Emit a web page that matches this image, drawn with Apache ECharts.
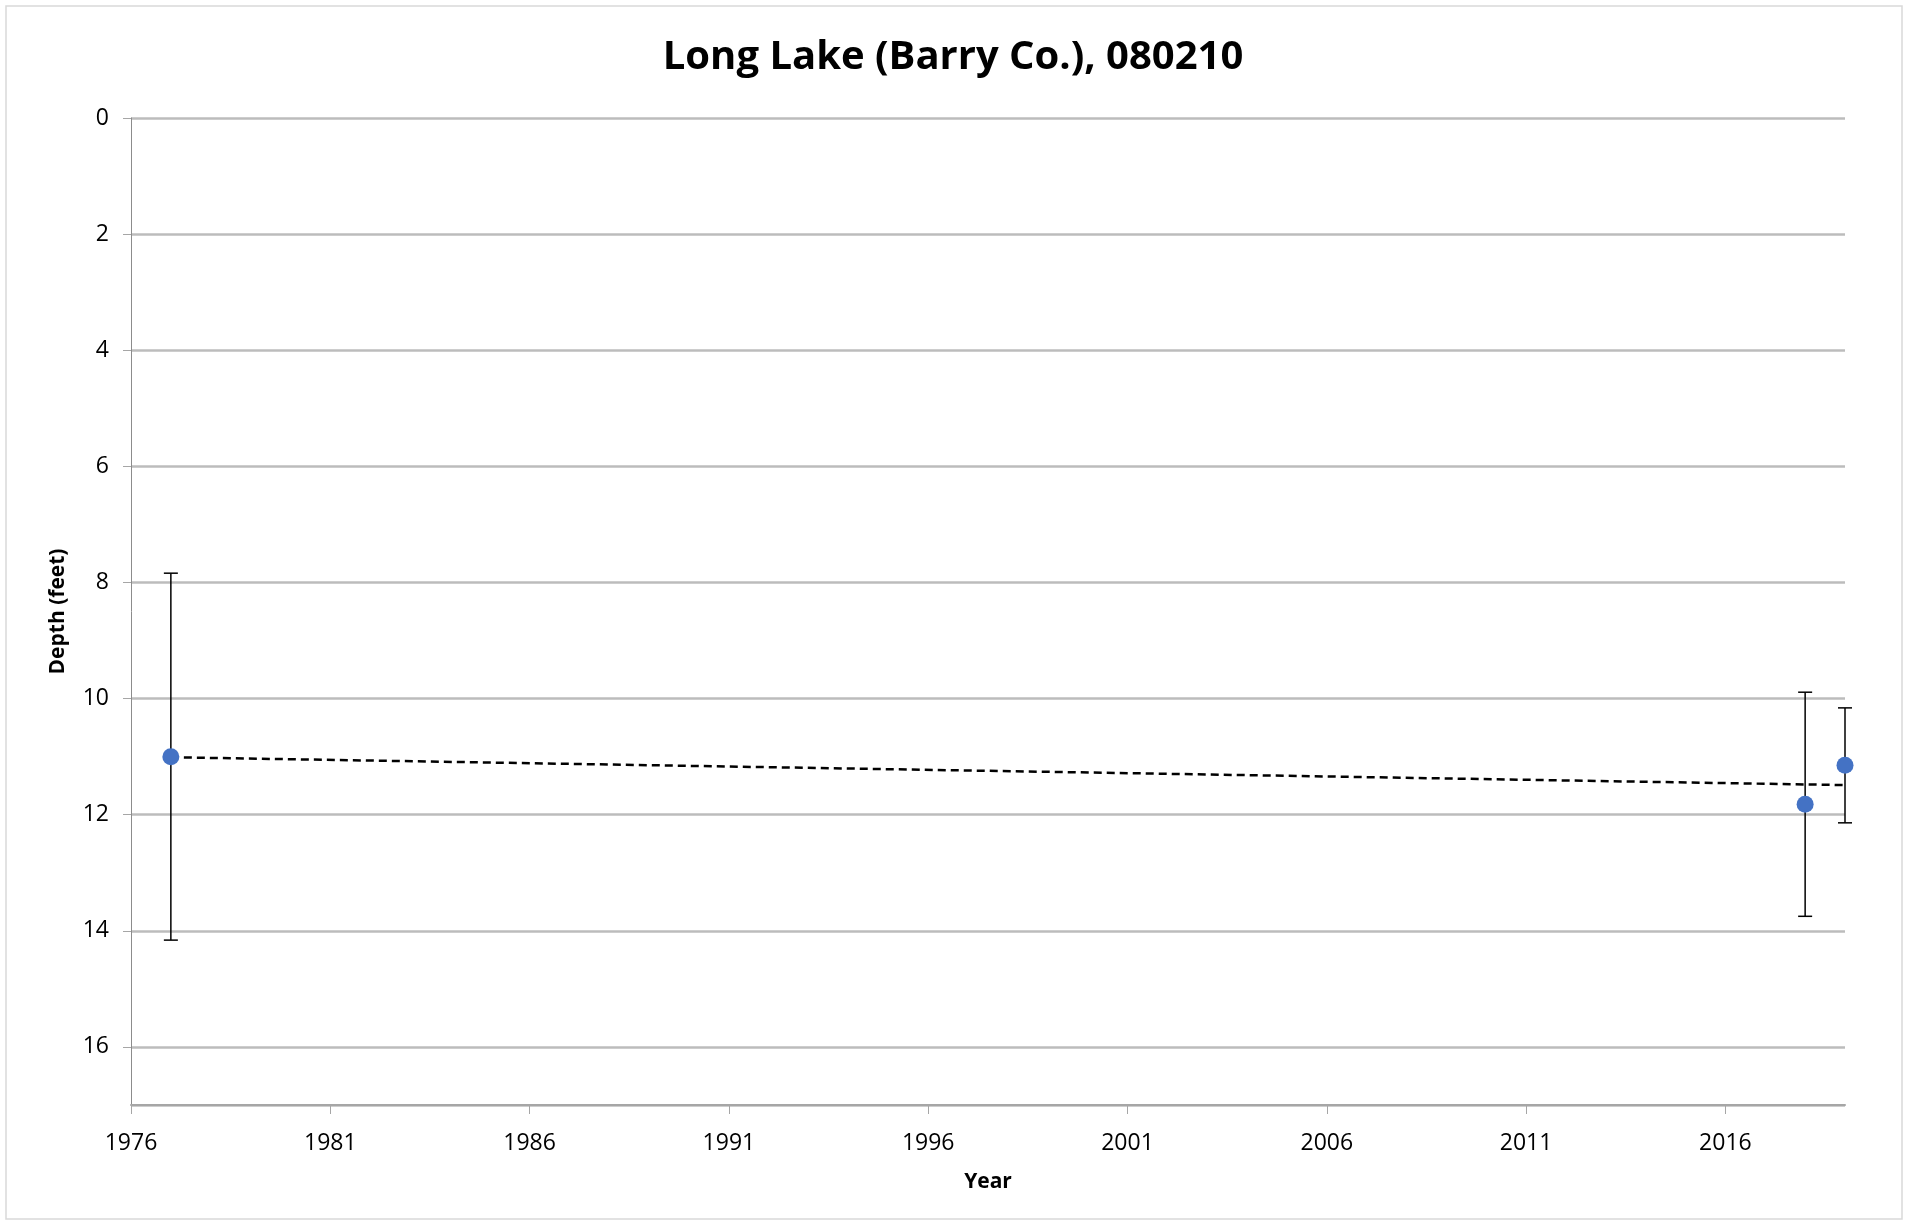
<!DOCTYPE html>
<html>
<head>
<meta charset="utf-8">
<script src="https://cdn.jsdelivr.net/npm/echarts@6/dist/echarts.min.js"></script>
<style>
html,body{margin:0;padding:0;background:#fff;}
#chart{width:1906px;height:1225px;}
</style>
</head>
<body>
<div id="chart"></div>
<script>
// Data
var years = [1977, 2018, 2019];
var depths = [11.0, 11.82, 11.15];
var errors = [3.16, 1.93, 0.99];
var trendYears = [1977, 2019];
var trendDepths = [11.01, 11.49];
var yTicks = [0, 2, 4, 6, 8, 10, 12, 14, 16];

var chart = echarts.init(document.getElementById('chart'));
var FONT = '"Open Sans", "Liberation Sans", sans-serif';

var pointData = years.map(function (y, i) { return [y, depths[i]]; });
var errData = years.map(function (y, i) { return [y, depths[i] - errors[i], depths[i] + errors[i]]; });
var trendData = trendYears.map(function (y, i) { return [y, trendDepths[i]]; });

var option = {
  backgroundColor: '#ffffff',
  animation: false,
  title: {
    text: 'Long Lake (Barry Co.), 080210',
    left: 'center',
    top: 33,
    textStyle: { fontFamily: FONT, fontWeight: 'bold', fontSize: 40, color: '#000' }
  },
  graphic: [{
    type: 'rect',
    shape: { x: 6, y: 6, width: 1896, height: 1213 },
    style: { fill: 'none', stroke: '#d9d9d9', lineWidth: 1.5 },
    silent: true
  }],
  grid: { left: 131, right: 61, top: 118, bottom: 120 },
  xAxis: {
    type: 'value',
    min: 1976,
    max: 2019,
    interval: 5,
    name: 'Year',
    nameLocation: 'middle',
    nameGap: 67,
    nameTextStyle: { fontFamily: FONT, fontWeight: 'bold', fontSize: 21, color: '#000' },
    axisLine: { show: true, onZero: false, lineStyle: { color: '#a6a6a6', width: 2 } },
    axisTick: { show: true, length: 9, lineStyle: { color: '#a6a6a6', width: 1 } },
    axisLabel: {
      fontFamily: FONT, fontSize: 23, color: '#000', margin: 27,
      showMaxLabel: false,
      formatter: function (v) { return String(v); }
    },
    splitLine: { show: false }
  },
  yAxis: {
    type: 'value',
    inverse: true,
    min: 0,
    max: 17,
    interval: 2,
    name: 'Depth (feet)',
    nameLocation: 'middle',
    nameGap: 62,
    nameRotate: 90,
    nameTextStyle: { fontFamily: FONT, fontWeight: 'bold', fontSize: 21, color: '#000' },
    axisLine: { show: true, onZero: false, lineStyle: { color: '#8c8c8c', width: 1 } },
    axisTick: { show: true, length: 8, lineStyle: { color: '#a6a6a6', width: 1 } },
    axisLabel: {
      fontFamily: FONT, fontSize: 23, color: '#000', margin: 22,
      showMaxLabel: false,
      formatter: function (v) { return yTicks.indexOf(v) >= 0 ? String(v) : ''; }
    },
    splitLine: { show: true, lineStyle: { color: '#bcbcbc', width: 2.5 } }
  },
  series: [
    {
      type: 'line',
      name: 'Trend',
      data: trendData,
      showSymbol: false,
      symbol: 'none',
      lineStyle: { color: '#000', width: 2.5, type: [8, 5] },
      z: 3
    },
    {
      type: 'custom',
      name: 'Error',
      data: errData,
      renderItem: function (params, api) {
        var x = api.value(0);
        var top = api.coord([x, api.value(1)]);
        var bot = api.coord([x, api.value(2)]);
        var cap = 7;
        var style = { stroke: '#000', lineWidth: 1.5 };
        return {
          type: 'group',
          children: [
            { type: 'line', shape: { x1: top[0], y1: top[1], x2: bot[0], y2: bot[1] }, style: style },
            { type: 'line', shape: { x1: top[0] - cap, y1: top[1], x2: top[0] + cap, y2: top[1] }, style: style },
            { type: 'line', shape: { x1: bot[0] - cap, y1: bot[1], x2: bot[0] + cap, y2: bot[1] }, style: style }
          ]
        };
      },
      encode: { x: 0, y: [1, 2] },
      z: 4
    },
    {
      type: 'scatter',
      name: 'Depth',
      data: pointData,
      symbol: 'circle',
      symbolSize: 17,
      itemStyle: { color: '#4472C4', opacity: 1 },
      z: 5
    }
  ]
};
chart.setOption(option);
</script>
</body>
</html>
